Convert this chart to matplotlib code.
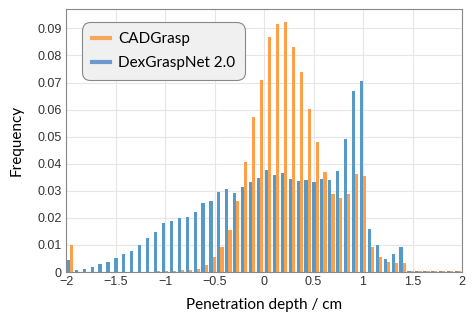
import matplotlib
matplotlib.use('Agg')
import numpy as np
import matplotlib.pyplot as plt
from matplotlib.lines import Line2D

# histogram bins (-2 .. 2 cm, 50 bins)
bin_edges = np.linspace(-2, 2, 51)

# frequency per bin
cadgrasp = [0.0100, 0.0000, 0.0000, 0.0000, 0.0000, 0.0000, 0.0000, 0.0000, 0.0000, 0.0000,
            0.0000, 0.0002, 0.0004, 0.0005, 0.0006, 0.0008, 0.0010, 0.0027, 0.0054, 0.0091,
            0.0156, 0.0264, 0.0406, 0.0572, 0.0709, 0.0869, 0.0916, 0.0923, 0.0832, 0.0738,
            0.0601, 0.0479, 0.0370, 0.0290, 0.0275, 0.0289, 0.0362, 0.0354, 0.0093, 0.0056,
            0.0037, 0.0035, 0.0035, 0.0003, 0.0003, 0.0003, 0.0003, 0.0003, 0.0003, 0.0003]
dexgraspnet = [0.0044, 0.0007, 0.0010, 0.0020, 0.0030, 0.0037, 0.0053, 0.0068, 0.0077, 0.0099,
               0.0127, 0.0148, 0.0180, 0.0188, 0.0201, 0.0204, 0.0221, 0.0254, 0.0263, 0.0296,
               0.0306, 0.0293, 0.0314, 0.0333, 0.0349, 0.0378, 0.0358, 0.0367, 0.0344, 0.0338,
               0.0341, 0.0333, 0.0344, 0.0341, 0.0373, 0.0493, 0.0669, 0.0706, 0.0158, 0.0099,
               0.0048, 0.0066, 0.0091, 0.0003, 0.0003, 0.0003, 0.0003, 0.0003, 0.0003, 0.0003]

c_blue = '#5799c7'
c_orange = '#ff9f4a'

fig = plt.figure(figsize=(4.76, 3.25), dpi=100)
ax = fig.add_axes([0.1387, 0.163, 0.832, 0.808])

centers = 0.5 * (bin_edges[:-1] + bin_edges[1:])
ax.hist([centers, centers], bins=bin_edges, weights=[dexgraspnet, cadgrasp],
        color=[c_blue, c_orange], histtype='bar', zorder=2)

ax.set_xlim(-2, 2)
ax.set_ylim(0, 0.097)
ax.set_xticks([-2, -1.5, -1, -0.5, 0, 0.5, 1, 1.5, 2])
ax.set_xticklabels(['\u22122', '\u22121.5', '\u22121', '\u22120.5', '0', '0.5', '1', '1.5', '2'])
ax.set_yticks([0, 0.01, 0.02, 0.03, 0.04, 0.05, 0.06, 0.07, 0.08, 0.09])
ax.set_yticklabels(['0', '0.01', '0.02', '0.03', '0.04', '0.05', '0.06', '0.07', '0.08', '0.09'])
for lab in ax.get_xticklabels() + ax.get_yticklabels():
    lab.set_fontfamily('Liberation Sans')
    lab.set_fontsize(9)
    lab.set_color('#333333')
ax.tick_params(length=0, pad=3)
ax.grid(True, color='#e6e6e6', linewidth=0.8, zorder=0)
ax.set_axisbelow(True)
for s in ax.spines.values():
    s.set_color('#888888')
    s.set_linewidth(0.8)

ax.set_xlabel('Penetration depth / cm', fontfamily='Lato', fontsize=11, labelpad=7)
ax.set_ylabel('Frequency', fontfamily='Lato', fontsize=11, labelpad=10)

handles = [Line2D([0], [0], color='#f7a65a', lw=3),
           Line2D([0], [0], color='#6e98d0', lw=3)]
leg = ax.legend(handles, ['CADGrasp', 'DexGraspNet 2.0'], loc='upper left',
                bbox_to_anchor=(0.040, 0.951), borderaxespad=0,
                prop={'family': 'Lato', 'size': 11},
                frameon=True, fancybox=True, facecolor='#f0f0f0', edgecolor='#888888',
                framealpha=1, handlelength=1.2, handletextpad=0.5,
                borderpad=0.65, labelspacing=0.65)
leg.get_frame().set_linewidth(0.8)
leg.get_frame().set_boxstyle('round', pad=0, rounding_size=0.55)

plt.savefig('out.png', dpi=100)
